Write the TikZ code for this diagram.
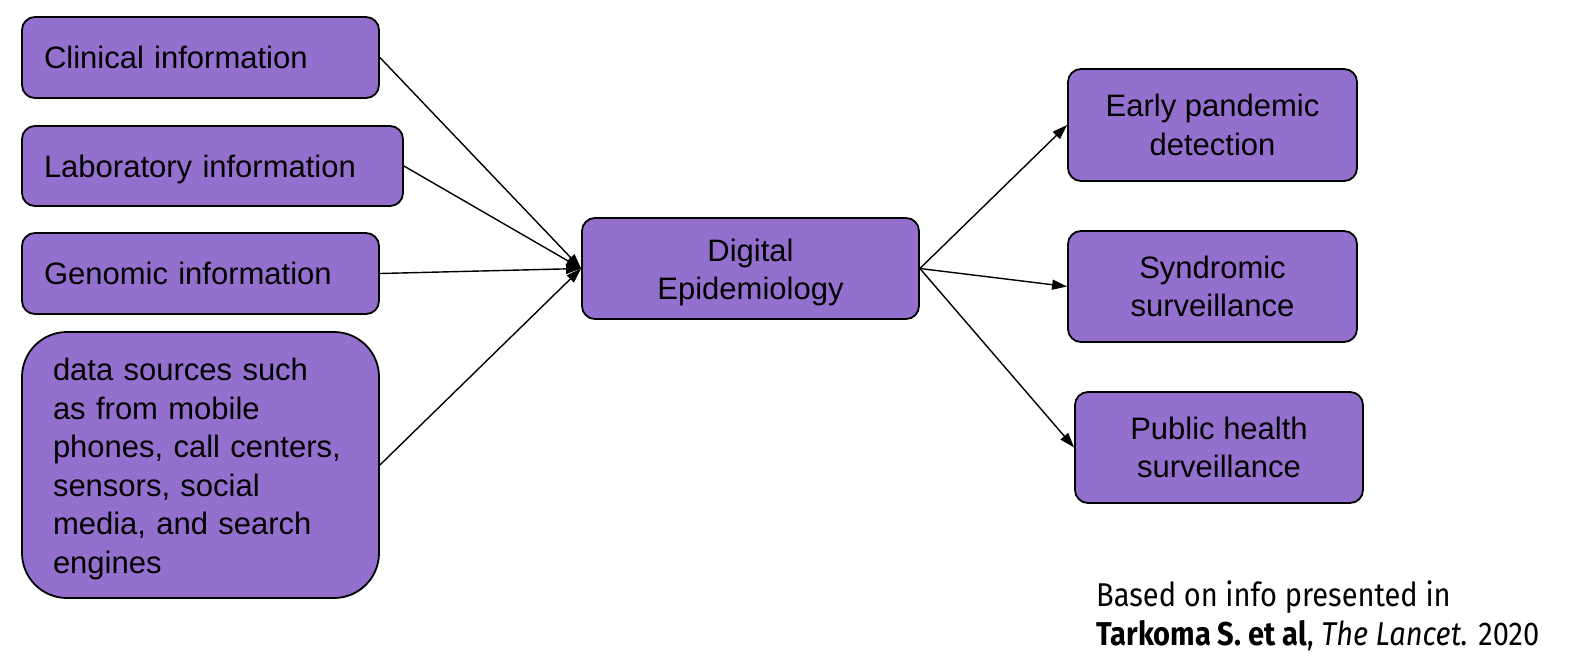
\documentclass[tikz,border=0pt]{standalone}
\usepackage{fontspec}
\setmainfont{Liberation Sans}
\newfontfamily\footfont[FakeStretch=0.88]{Fira Sans}
\usetikzlibrary{arrows.meta}
\definecolor{boxfill}{RGB}{148,112,206}
\tikzset{
  box/.style={draw=black, line width=1.8pt, fill=boxfill, rounded corners=13pt,
    font=\fontsize{31}{38.5}\selectfont, inner ysep=0pt},
  leftbox/.style={box, align=left, text height=22pt, text depth=0pt},
  ctrbox/.style={box, align=center, inner xsep=0pt},
  conn/.style={line width=1.4pt, -{Triangle[length=15pt,width=10pt]}},
  foot/.style={anchor=base west, inner sep=0pt, font=\footfont\fontsize{33}{40}\selectfont}
}
\begin{document}
\begin{tikzpicture}[x=1pt,y=-1pt]
\useasboundingbox (0,0) rectangle (1596,670);
\node[leftbox, minimum width=357, minimum height=81, inner xsep=22pt, text width=313pt] (clin) at (200.5,57.5) {Clinical information};
\node[leftbox, minimum width=381, minimum height=80, inner xsep=22pt, text width=337pt] (lab) at (212.5,166) {Laboratory information};
\node[leftbox, minimum width=357, minimum height=81, inner xsep=22pt, text width=313pt] (gen) at (200.5,273.5) {Genomic information};
\node[box, align=left, rounded corners=45pt, minimum width=357, minimum height=266, inner xsep=31pt, text width=295pt] (data) at (200.5,465)
  {\rule{0pt}{30pt}data sources such\\as from mobile\\phones, call centers,\\sensors, social\\media, and search\\engines};
\node[ctrbox, minimum width=337, minimum height=101] (ep) at (750.5,268.5) {\rule{0pt}{30pt}Digital\\Epidemiology};
\node[ctrbox, minimum width=289, minimum height=112] (early) at (1212.5,125) {Early pandemic\\detection};
\node[ctrbox, minimum width=289, minimum height=111] (synd) at (1212.5,286.5) {Syndromic\\surveillance};
\node[ctrbox, minimum width=288, minimum height=111] (pub) at (1219,447.5) {Public health\\surveillance};
\draw[conn] (clin.east) -- (ep.west);
\draw[conn] (lab.east) -- (ep.west);
\draw[conn] (gen.east) -- (ep.west);
\draw[conn] (data.east) -- (ep.west);
\draw[conn] (ep.east) -- (early.west);
\draw[conn] (ep.east) -- (synd.west);
\draw[conn] (ep.east) -- (pub.west);
\node[foot] (f1) at (1096,606) {Based on info presented in};
\node[foot] (f2) at (1096,645) {\textbf{Tarkoma S. et al}, \textit{The Lancet.} 2020};
\end{tikzpicture}
\end{document}
